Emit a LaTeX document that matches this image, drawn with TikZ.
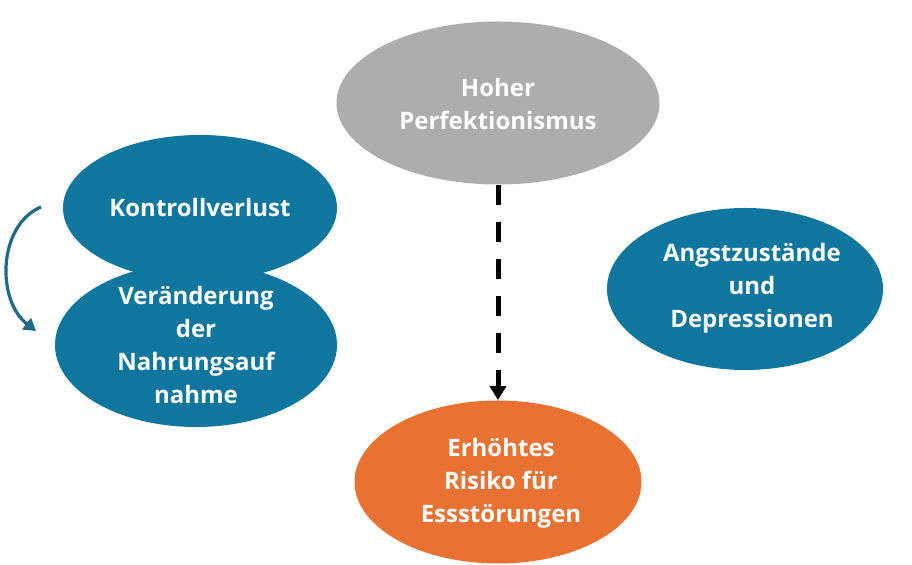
\documentclass[tikz,border=0pt]{standalone}
\usepackage{fontspec}
\setmainfont{Open Sans}
\usepackage{xcolor}
\usetikzlibrary{shapes.geometric}
\usetikzlibrary{arrows.meta}

\definecolor{petrol}{HTML}{0E769F}
\definecolor{greyfill}{HTML}{ADADAD}
\definecolor{orangefill}{HTML}{E97132}
\definecolor{arcblue}{HTML}{1D6A8A}

\tikzset{
bubble/.style={ellipse, draw=none, inner sep=0pt},
bubbletext/.style={text=white, align=center, font=\fontsize{12}{16.5}\selectfont\bfseries},
}

\begin{document}
\begin{tikzpicture}[x=0.5pt, y=-0.5pt]

\useasboundingbox (0,0) rectangle (912,565);

\node[bubble, fill=greyfill, minimum width=161.5pt, minimum height=81.5pt] (perf) at (498,103) {};
\node[bubbletext] (perftext) at (498,104) {Hoher\\Perfektionismus};

\node[bubble, fill=petrol, minimum width=137pt, minimum height=73pt] (ctrl) at (200,208) {};
\node[bubble, fill=petrol, minimum width=141pt, minimum height=82pt] (food) at (196,345) {};
\node[bubbletext] (ctrltext) at (200,208) {Kontrollverlust};
\node[bubbletext] (foodtext) at (196,345) {Veränderung\\der\\Nahrungsauf\\nahme};

\node[bubble, fill=petrol, minimum width=138pt, minimum height=81pt] (anx) at (745,289) {};
\node[bubbletext] (anxtext) at (752,288) {Angstzustände\\und\\Depressionen};

\node[bubble, fill=orangefill, minimum width=143.5pt, minimum height=81.5pt] (risk) at (498,482) {};
\node[bubbletext] (risktext) at (501,483) {Erhöhtes\\Risiko für\\Essstörungen};

%dashed link
\draw[line width=2.5pt, dash pattern=on 10pt off 8.5pt, -{Triangle[length=7pt, width=8pt]}] (perf.south) -- (risk.north);

%loop arrow on the left
\coordinate (arcstart) at (41,207);
\coordinate (arcend) at (36,331);
\draw[arcblue, line width=1.6pt, -{Triangle[length=6pt, width=7pt]}] (arcstart) .. controls (-2,225) and (-4,300) .. (arcend);

\end{tikzpicture}
\end{document}
